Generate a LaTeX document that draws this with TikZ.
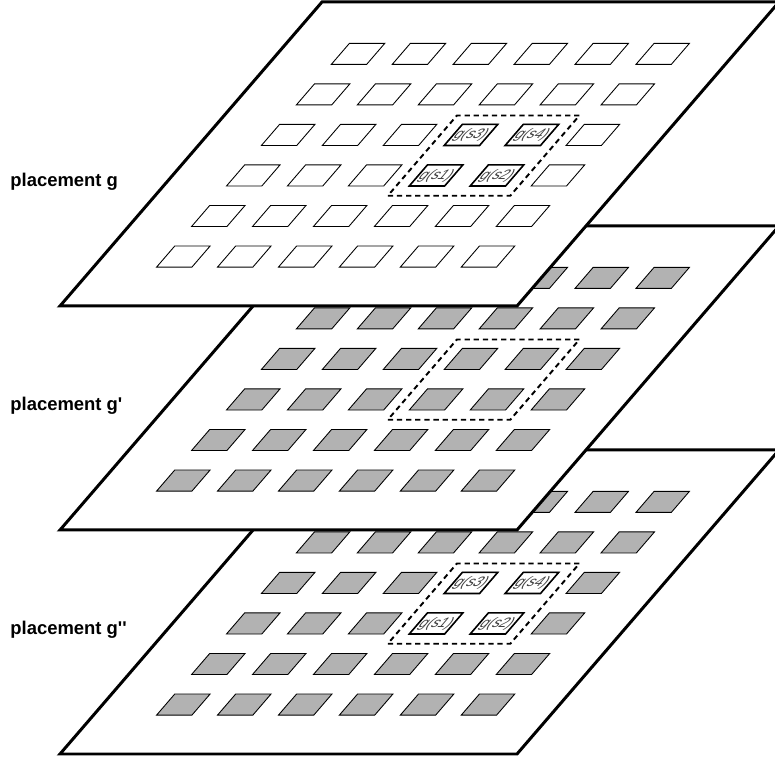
\documentclass[tikz,border=0pt]{standalone}
\usepackage{fontspec}
\setmainfont{Liberation Sans}
\definecolor{cellgray}{gray}{0.7}
\begin{document}
\begin{tikzpicture}[layer/.style = {draw, fill=white, line width=1.7pt},
  cell/.style = {draw, line width=0.5pt},
  hot/.style = {draw, fill=white, line width=0.9pt},
  selbox/.style = {draw, dash pattern=on 3pt off 2.2pt, line width=1.1pt},
  celltext/.style = {font=\fontsize{7.8}{9}\selectfont, text=black!75, xslant=0.86, inner sep=0pt},
  lbl/.style = {font=\fontsize{10.5}{12}\selectfont\bfseries, anchor=west, inner sep=0pt}]
\useasboundingbox (0,0) rectangle (15.5,15.16);
\foreach \yy/\cf/\lab/\nm/\hl in {0.08/cellgray/g\textquotesingle\textquotesingle/c/1,
    4.56/cellgray/g\textquotesingle/b/0, 9.04/white/g/a/1} {
  \node[lbl] (\nm lbl) at (0.2,\yy+2.48) {placement \lab};
  \begin{scope}[shift={(1.2,\yy)}, x={(1.2187cm,0)}, y={(0.6987cm,0.8107cm)}]
    \draw[layer] (0,0) -- (7.5,0) -- (7.5,7.5) -- (0,7.5) -- cycle;
    \foreach \i in {0,...,5}
      \foreach \j in {0,...,5}
        \draw[cell, fill=\cf] (1.035+\i,0.96+\j) -- ++(0.58,0) -- ++(0,0.52) -- ++(-0.58,0) -- cycle;
    \ifnum\hl=1
      \foreach \i/\j/\s in {3/2/1, 4/2/2, 3/3/3, 4/3/4} {
        \draw[hot] (1.035+\i,0.96+\j) -- ++(0.58,0) -- ++(0,0.52) -- ++(-0.58,0) -- cycle;
        \node[celltext] (\nm s\s) at (1.325+\i,1.22+\j) {g(s\s)};
      }
    \fi
    \draw[selbox] (3.82,2.72) -- (5.83,2.72) -- (5.83,4.7) -- (3.82,4.7) -- cycle;
  \end{scope}
}
\end{tikzpicture}
\end{document}
